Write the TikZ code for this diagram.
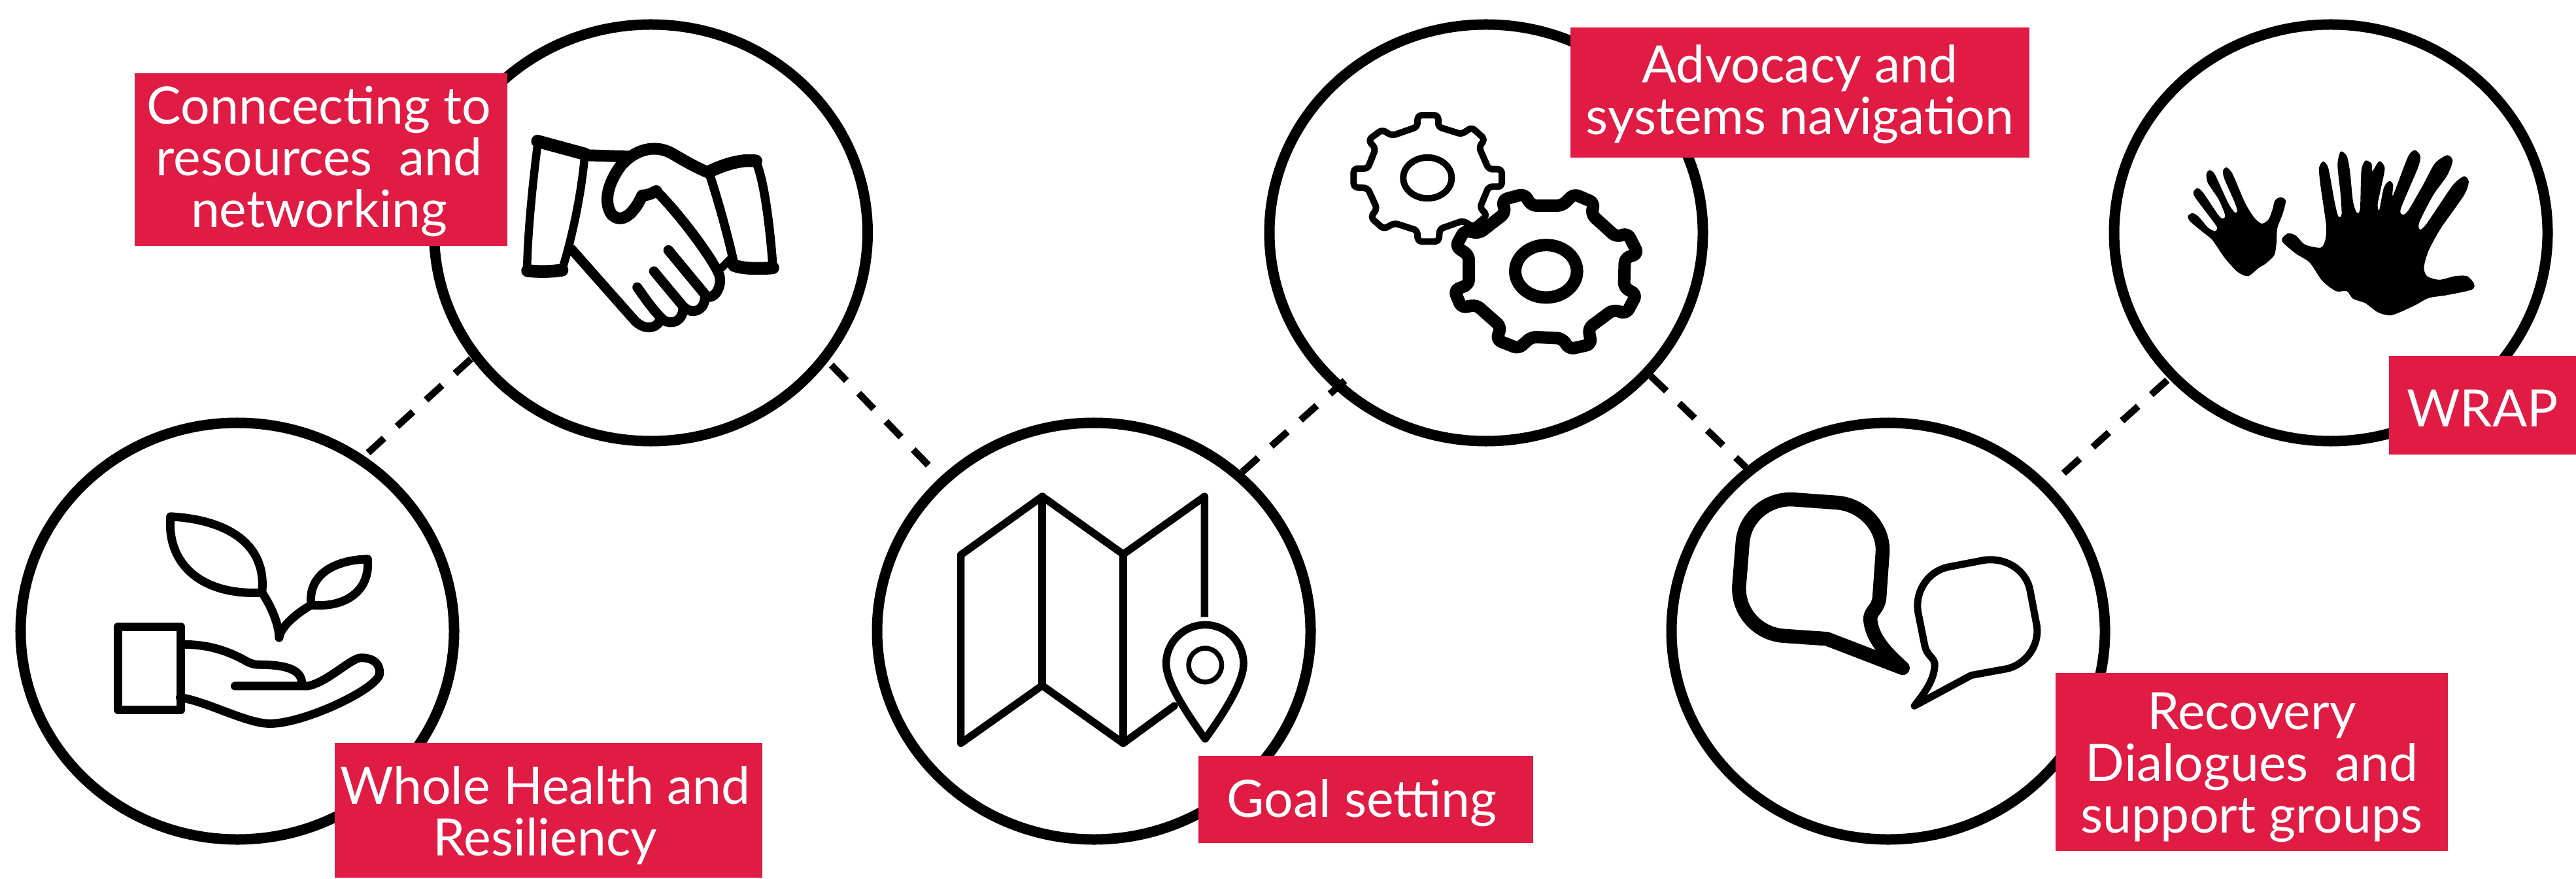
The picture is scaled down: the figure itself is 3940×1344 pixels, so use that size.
\documentclass[tikz,border=0pt]{standalone}
\usepackage{fontspec}
\setmainfont{Lato}
\usetikzlibrary{shapes.geometric}
\definecolor{boxred}{HTML}{E01B44}
\tikzset{
  ring/.style={ellipse,draw=black,line width=3.2pt,inner sep=0pt,minimum width=132.6pt,minimum height=127.4pt},
  link/.style={draw=black,line width=2.1pt,dash pattern=on 6.6pt off 5.4pt},
  redbox/.style={fill=boxred,inner sep=0pt},
  redtext/.style={text=white,inner sep=0pt,align=center,font=\fontsize{15.75pt}{15.8pt}\selectfont},
  icon/.style={draw=black,line join=round,line cap=round,line width=#1},
}
\begin{document}
\begin{tikzpicture}[x=0.2pt,y=-0.2pt]
\useasboundingbox (0,0) rectangle (3940,1344);
% circles
\node[ring] (c1) at (363,965) {};
\node[ring] (c2) at (995.5,356) {};
\node[ring] (c3) at (1673,965) {};
\node[ring] (c4) at (2273,356) {};
\node[ring] (c5) at (2888,965) {};
\node[ring] (c6) at (3565,356) {};
% connectors
\draw[link,shorten <=1.5pt] (c1.54) -- (c2.215);
\draw[link,shorten <=1.5pt,shorten >=4.4pt] (c2.324) -- (c3.135);
\draw[link,shorten >=-4pt] (c3.47) -- (c4.226);
\draw[link] (c4.319) -- (c5.131);
\draw[link,shorten <=5.5pt] (c5.42) -- (c6.222);
% plant in hand
\begin{scope}[shift={(0,600)},xscale=.459,yscale=.4746]
\draw[icon=2.6pt] (568,400) .. controls (760,410) and (890,490) .. (873,645) .. controls (680,655) and (555,560) .. (568,400) -- cycle;
\draw[icon=2.6pt] (1225,537) .. controls (1110,540) and (1025,590) .. (1037,685) .. controls (1150,695) and (1235,640) .. (1225,537) -- cycle;
\draw[icon=2.6pt] (873,645) .. controls (905,690) and (930,750) .. (930,790);
\draw[icon=2.6pt] (930,790) .. controls (935,755) and (990,710) .. (1037,685);
\draw[icon=2.6pt] (393,755) rectangle (603,1022);
\draw[icon=2.6pt] (610,812) .. controls (700,812) and (760,835) .. (810,860) .. controls (835,875) and (850,877) .. (860,877) .. controls (960,877) and (1010,895) .. (1006,945);
\draw[icon=2.6pt] (783,946) -- (1025,946) .. controls (1090,935) and (1170,855) .. (1203,855) .. controls (1245,855) and (1268,875) .. (1265,908) .. controls (1250,960) and (1010,1067) .. (900,1067) .. controls (820,1067) and (690,995) .. (600,983);
\end{scope}
% handshake
\begin{scope}[shift={(650,0)},xscale=.446,yscale=.446]
\draw[icon=2.5pt] (387,490) -- (548,532) .. controls (535,680) and (500,830) .. (470,925) .. controls (430,935) and (380,935) .. (350,925) .. controls (352,800) and (370,620) .. (387,490) -- cycle;
\draw[icon=3.9pt] (386,484) -- (548,528);
\draw[icon=3.9pt] (352,928) .. controls (390,932) and (430,932) .. (470,926);
\draw[icon=3.6pt] (550,532) -- (700,537);
\draw[icon=3.6pt] (968,590) .. controls (920,570) and (880,545) .. (845,525) .. controls (790,495) and (720,510) .. (670,570) .. controls (630,625) and (610,690) .. (640,735) .. controls (670,765) and (710,745) .. (745,670) .. controls (760,670) and (775,665) .. (793,655);
\draw[icon=3.1pt] (793,655) .. controls (870,730) and (990,890) .. (1010,945) .. controls (1020,985) and (990,1030) .. (965,1015) -- (835,858);
\draw[icon=3pt] (785,930) -- (885,1050) .. controls (920,1085) and (960,1060) .. (960,1020);
\draw[icon=3pt] (728,985) .. controls (760,1030) and (780,1060) .. (815,1095) .. controls (850,1120) and (885,1095) .. (885,1060);
\draw[icon=3pt] (503,855) -- (720,1100) .. controls (750,1130) and (790,1130) .. (805,1100);
\draw[icon=2.7pt] (978,592) .. controls (1030,565) and (1090,545) .. (1135,555) .. controls (1165,620) and (1185,800) .. (1193,915) .. controls (1150,920) and (1090,920) .. (1060,905) .. controls (1040,810) and (1000,670) .. (975,595);
\draw[icon=3.9pt] (978,587) .. controls (1030,562) and (1090,545) .. (1135,552);
\draw[icon=3.9pt] (1060,910) .. controls (1090,922) and (1150,922) .. (1193,918);
\draw[icon=2.4pt] (1045,890) -- (1018,918);
\end{scope}
% map
\begin{scope}[shift={(1320,620)},xscale=.459,yscale=.446]
\draw[icon=2.3pt] (597,312) -- (326,512) -- (326,1158) -- (597,960) -- (867,1158) -- (1037,1030);
\draw[icon=2.3pt,line cap=butt] (597,312) -- (867,510) -- (1138,312) -- (1138,725);
\draw[icon=2.3pt] (597,312) -- (597,960);
\draw[icon=2.3pt] (867,510) -- (867,1158);
\draw[icon=2.3pt] (1140,1143) .. controls (1060,1030) and (1010,940) .. (1010,885) .. controls (1010,810) and (1070,752) .. (1140,752) .. controls (1210,752) and (1268,810) .. (1268,885) .. controls (1268,940) and (1220,1030) .. (1140,1143) -- cycle;
\draw[icon=1.5pt] (1140,890) ellipse [x radius=55,y radius=58];
\end{scope}
% gears
\begin{scope}[shift={(1950,0)},xscale=.446,yscale=.446]
\draw[icon=2pt,rounded corners=1.1pt] (490,395) -- (560,395) -- (560,435) -- (640,460) -- (675,437) -- (720,477) -- (700,505) -- (733,580) -- (778,580) -- (778,640) -- (733,640) -- (703,712) -- (728,738) -- (680,778) -- (645,757) -- (565,785) -- (562,828) -- (490,828) -- (488,790) -- (410,765) -- (373,785) -- (328,745) -- (350,715) -- (318,645) -- (270,642) -- (270,578) -- (318,578) -- (345,510) -- (320,480) -- (367,445) -- (402,465) -- (488,435) -- cycle;
\draw[icon=2pt] (523,610) ellipse [x radius=83,y radius=70];
\draw[icon=3.8pt,fill=white,rounded corners=1.5pt] (780,685) -- (855,665) -- (880,705) -- (985,705) -- (1025,665) -- (1095,695) -- (1085,735) -- (1170,812) -- (1210,800) -- (1245,870) -- (1200,885) -- (1197,985) -- (1240,1010) -- (1205,1075) -- (1160,1062) -- (1075,1125) -- (1085,1180) -- (1010,1197) -- (985,1160) -- (880,1155) -- (835,1195) -- (760,1165) -- (775,1120) -- (690,1045) -- (640,1055) -- (615,995) -- (665,975) -- (665,875) -- (620,845) -- (650,790) -- (700,800) -- (790,730) -- cycle;
\draw[icon=3.8pt] (930,930) ellipse [x radius=106,y radius=90];
\end{scope}
% speech bubbles
\begin{scope}[shift={(2560,620)},xscale=.446,yscale=.446]
\draw[icon=4.3pt] (408,322) -- (560,333) .. controls (650,340) and (722,420) .. (716,505) -- (705,660) .. controls (700,700) and (672,705) .. (674,735) .. controls (680,800) and (730,850) .. (785,900) -- (525,800) -- (380,790) .. controls (290,785) and (220,710) .. (224,620) -- (236,470) .. controls (242,385) and (320,318) .. (408,322) -- cycle;
\draw[icon=2.2pt] (945,553) -- (1065,530) .. controls (1140,520) and (1210,565) .. (1222,635) -- (1245,755) .. controls (1255,825) and (1205,890) .. (1140,903) -- (1020,925) -- (825,1030) .. controls (860,985) and (895,940) .. (895,885) .. controls (890,860) and (868,860) .. (860,820) -- (838,710) .. controls (825,635) and (875,565) .. (945,553) -- cycle;
\end{scope}
% hands
\begin{scope}[shift={(3200,0)},xscale=.472,yscale=.459]
\fill[black] plot[smooth cycle,tension=.45] coordinates {(310,720)(325,710)(345,722)(375,758)(398,770)(405,760)(395,742)(335,660)(328,640)(340,627)(358,640)(410,718)(425,728)(430,715)(410,665)(375,610)(370,580)(380,567)(398,582)(440,675)(462,708)(470,703)(462,675)(428,595)(424,568)(436,558)(455,580)(495,675)(525,725)(550,745)(572,730)(585,695)(592,668)(610,657)(627,668)(618,710)(600,760)(597,810)(590,850)(560,880)(540,892)(505,920)(470,905)(430,860)(400,815)(385,795)(345,762)(315,735)};
\fill[black] plot[smooth cycle,tension=.45] coordinates {(615,795)(635,777)(660,785)(690,815)(740,825)(755,800)(758,750)(740,620)(735,560)(748,538)(765,560)(785,670)(797,720)(808,715)(805,650)(795,550)(805,505)(825,520)(835,570)(845,670)(857,708)(868,695)(872,570)(885,535)(905,545)(908,570)(930,537)(948,560)(935,630)(925,680)(930,700)(945,625)(963,603)(975,615)(975,650)(1022,525)(1045,500)(1063,520)(1055,560)(1000,695)(1008,715)(1025,700)(1070,620)(1110,545)(1150,517)(1168,535)(1150,585)(1105,650)(1060,740)(1062,765)(1080,750)(1120,690)(1170,615)(1205,587)(1220,605)(1205,650)(1130,760)(1090,835)(1075,890)(1085,920)(1125,932)(1175,920)(1215,920)(1237,945)(1230,965)(1150,983)(1090,993)(1040,1020)(970,1050)(925,1040)(885,1010)(845,995)(825,970)(790,970)(745,935)(705,875)(660,845)(620,810)};
\end{scope}
% labels
\node[redbox,minimum width=114pt,minimum height=52.8pt] (l1) at (491,244) {};
\node[redtext] at ([xshift=-.6pt,yshift=-.5pt]l1.center) {Conncecting to\\resources~ and\\networking};
\node[redbox,minimum width=130.8pt,minimum height=41.2pt] (l2) at (839,1239) {};
\node[redtext] at ([xshift=-1pt,yshift=-1.6pt]l2.center) {Whole Health and\\Resiliency};
\node[redbox,minimum width=102.4pt,minimum height=26.6pt] (l3) at (2089,1222.5) {};
\node[redtext] at ([xshift=-1.2pt,yshift=-1pt]l3.center) {Goal setting};
\node[redbox,minimum width=140.4pt,minimum height=39.8pt] (l4) at (2753,141.5) {};
\node[redtext] at ([yshift=-.5pt]l4.center) {Advocacy and\\systems navigation};
\node[redbox,minimum width=120pt,minimum height=54.4pt] (l5) at (3444,1165) {};
\node[redtext] at ([yshift=-1.6pt]l5.center) {Recovery\\Dialogues~ and\\support groups};
\node[redbox,minimum width=57.2pt,minimum height=30.2pt] (l6) at (3797,619.5) {};
\node[redtext] at ([yshift=-1pt]l6.center) {WRAP};
\end{tikzpicture}
\end{document}
